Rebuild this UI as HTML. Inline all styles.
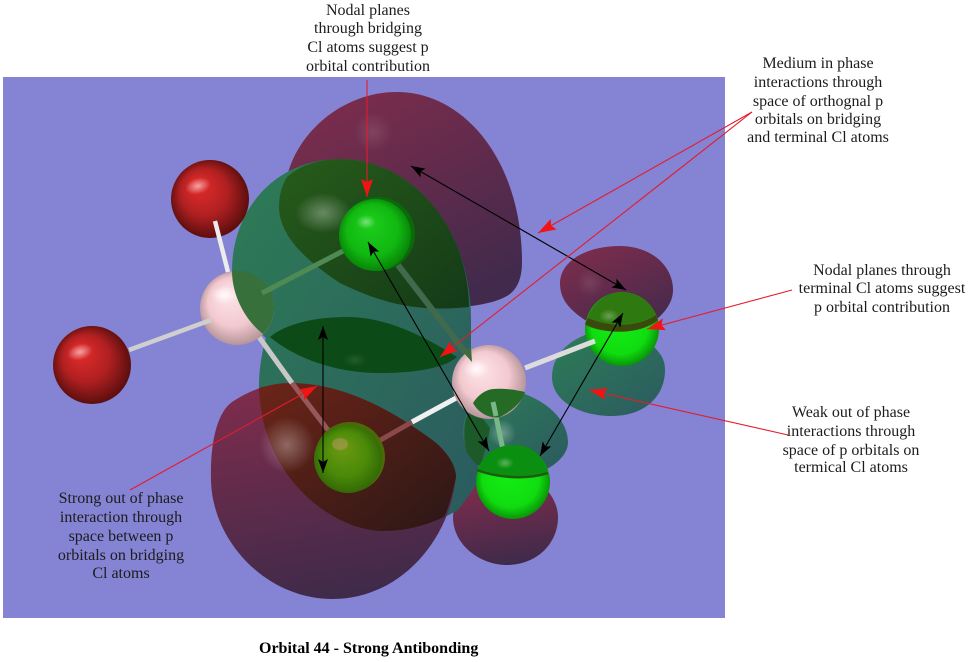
<!DOCTYPE html>
<html><head><meta charset="utf-8"><style>
html,body{margin:0;padding:0;background:#fff}
svg{display:block}
text{font-family:"Liberation Serif",serif;font-size:16px;fill:#1c1c1c}
</style></head><body>
<svg width="972" height="662" viewBox="0 0 972 662" xmlns="http://www.w3.org/2000/svg">
<defs>
<linearGradient id="mar" x1="0.15" y1="0" x2="0.7" y2="1"><stop offset="0" stop-color="#7e2c4c"/><stop offset="1" stop-color="#412a4c"/></linearGradient>
<linearGradient id="mar2" x1="0.3" y1="0" x2="0.5" y2="1"><stop offset="0" stop-color="#7e2c4c"/><stop offset="1" stop-color="#3f2a4a"/></linearGradient>
<linearGradient id="gr" x1="0" y1="0" x2="1" y2="1"><stop offset="0" stop-color="#2d7c56"/><stop offset="1" stop-color="#2b5a60"/></linearGradient>
<linearGradient id="dk" x1="0" y1="0" x2="1" y2="1"><stop offset="0" stop-color="#275c1a"/><stop offset="1" stop-color="#143a18"/></linearGradient>
<linearGradient id="dr" x1="0" y1="0" x2="1" y2="1"><stop offset="0" stop-color="#6d2418"/><stop offset="1" stop-color="#2a1716"/></linearGradient>
<radialGradient id="red" cx="0.5" cy="0.5" r="0.55" fx="0.32" fy="0.3"><stop offset="0" stop-color="#e92c2c"/><stop offset="0.55" stop-color="#b02021"/><stop offset="1" stop-color="#4e0b0b"/></radialGradient>
<radialGradient id="pink" cx="0.5" cy="0.5" r="0.55" fx="0.35" fy="0.3"><stop offset="0" stop-color="#ffe6ea"/><stop offset="0.6" stop-color="#f2c9cf"/><stop offset="1" stop-color="#a98a8f"/></radialGradient>
<radialGradient id="cl" cx="0.5" cy="0.5" r="0.55" fx="0.4" fy="0.3"><stop offset="0" stop-color="#1ed01e"/><stop offset="0.65" stop-color="#11b811"/><stop offset="1" stop-color="#067a06"/></radialGradient>
<radialGradient id="cl2" cx="0.5" cy="0.5" r="0.55" fx="0.4" fy="0.35"><stop offset="0" stop-color="#14f014"/><stop offset="0.7" stop-color="#10dc10"/><stop offset="1" stop-color="#068006"/></radialGradient>
<radialGradient id="ol" cx="0.5" cy="0.5" r="0.55" fx="0.4" fy="0.3"><stop offset="0" stop-color="#6f9a12"/><stop offset="0.6" stop-color="#4a8a08"/><stop offset="1" stop-color="#2f6206"/></radialGradient>
<radialGradient id="glow"><stop offset="0" stop-color="#fff" stop-opacity=".32"/><stop offset="1" stop-color="#fff" stop-opacity="0"/></radialGradient>
<radialGradient id="hi"><stop offset="0" stop-color="#fff" stop-opacity=".8"/><stop offset="1" stop-color="#fff" stop-opacity="0"/></radialGradient>
<marker id="rh" markerWidth="19" markerHeight="13" refX="18" refY="6.5" orient="auto-start-reverse" markerUnits="userSpaceOnUse"><path d="M0 0.5L18 6.5L0 12.5L3 6.5Z" fill="#f01414"/></marker>
<marker id="bh" markerWidth="15" markerHeight="11" refX="14" refY="5.5" orient="auto-start-reverse" markerUnits="userSpaceOnUse"><path d="M0 0.5L14 5.5L0 10.5L3 5.5Z" fill="#000"/></marker>
</defs>
<rect width="972" height="662" fill="#fff"/>
<rect x="3" y="77" width="722" height="541" fill="#8583d3"/>

<!-- small lobes -->
<path d="M585 320C570 310 560 300 560 283C560 262 585 246 620 246C650 246 673 265 673 290C673 302 665 312 658 318L620 340Z" fill="url(#mar)"/>
<path d="M552 377C552 358 565 343 585 335L640 335L655 348C661 354 665 360 665 370C665 396 645 416 612 416C578 416 552 400 552 377Z" fill="url(#gr)"/>
<path d="M478 483C463 492 453 505 453 517C453 545 480 565 507 565C535 565 558 545 558 517C558 507 553 497 547 490Z" fill="url(#mar2)"/>

<!-- top maroon lobe -->
<path d="M287 177C298 130 345 92 397 92C465 92 522 162 522 262C522 282 515 293 503 298C490 304 470 307 447 308L350 260L290 195Z" fill="url(#mar)"/>

<!-- main green lobe -->
<path d="M232 271C232 210 275 159 340 159C410 159 471 225 471 320L471 400C472 430 477 455 480 480L458 510C440 520 420 530 400 530C340 530 290 480 262 420C257 395 258 365 266 338C245 320 232 295 232 271Z" fill="url(#gr)"/>

<!-- overlap upper dark -->
<path d="M287 177C300 165 320 159 340 159C410 159 468 225 469 307C420 312 385 305 340 283C305 260 279 235 279 207C279 195 282 185 287 177Z" fill="url(#dk)"/>
<!-- dark ellipse -->
<path d="M270 337C285 324 315 317 347 317C390 317 430 340 457 357C445 368 415 373 380 373C335 373 295 358 270 337Z" fill="#0c4a17"/>

<!-- lower maroon -->
<path d="M211 480C210 440 218 412 232 402C250 390 270 383 290 383C345 383 395 412 435 442C448 453 456 466 456 477C450 540 400 599 333 599C265 599 212 540 211 480Z" fill="url(#mar2)"/>
<path d="M259 388C270 385 280 383 290 383C345 383 395 412 435 442C448 453 456 466 456 477C453 490 450 505 444 517C425 526 405 531 383 531C335 531 262 480 259 388Z" fill="url(#dr)"/>

<!-- small green lobe -->
<path d="M463 433C463 405 485 388 505 390C535 392 568 415 568 442C568 455 555 465 545 470L480 467C470 458 463 445 463 433Z" fill="url(#gr)"/>
<path d="M470 410C463 420 463 440 467 453C472 460 476 464 480 467C484 455 487 445 490 428L478 412Z" fill="#1c5a2a"/>

<!-- glows -->
<ellipse cx="323" cy="213" rx="28" ry="20" fill="url(#glow)"/>
<ellipse cx="373" cy="132" rx="20" ry="20" fill="url(#glow)" opacity=".35"/>
<ellipse cx="287" cy="445" rx="28" ry="28" fill="url(#glow)"/>
<ellipse cx="502" cy="433" rx="14" ry="14" fill="url(#glow)"/>
<ellipse cx="355" cy="360" rx="12" ry="7" fill="url(#glow)" opacity=".3"/>
<ellipse cx="590" cy="283" rx="14" ry="14" fill="url(#glow)" opacity=".3"/>

<!-- bonds behind atoms -->
<line x1="259" y1="337" x2="292" y2="383" stroke="#c8c8c8" stroke-width="5"/>
<line x1="292" y1="383" x2="328" y2="430" stroke="#95595c" stroke-width="5"/>
<line x1="377" y1="442" x2="412" y2="422" stroke="#8a4a4a" stroke-width="5"/>
<line x1="412" y1="422" x2="458" y2="397" stroke="#f0f0f0" stroke-width="5"/>
<line x1="262" y1="293" x2="345" y2="250" stroke="#4f8a55" stroke-width="5"/>
<line x1="398" y1="265" x2="468" y2="356" stroke="#406a4d" stroke-width="6"/>
<line x1="493" y1="402" x2="503" y2="450" stroke="#78b888" stroke-width="5"/>

<!-- atoms -->
<circle cx="210" cy="199" r="39" fill="url(#red)"/>
<ellipse cx="198" cy="186" rx="13" ry="8" transform="rotate(-15 198 186)" fill="url(#hi)" opacity=".7"/>
<circle cx="92" cy="365" r="39" fill="url(#red)"/>
<ellipse cx="80" cy="352" rx="13" ry="8" transform="rotate(-15 80 352)" fill="url(#hi)" opacity=".7"/>
<line x1="215" y1="221" x2="228" y2="272" stroke="#ececec" stroke-width="4.5"/>
<circle cx="237" cy="308" r="37" fill="url(#pink)"/>
<ellipse cx="224" cy="295" rx="13" ry="9" fill="url(#hi)"/>
<line x1="129" y1="350" x2="211" y2="320" stroke="#cfcfcf" stroke-width="4.5"/>
<path d="M232 271A37 37 0 0 1 263 334C245 320 232 295 232 271Z" fill="#37703a"/>
<line x1="262" y1="293" x2="274" y2="287" stroke="#4f8a55" stroke-width="5"/>

<circle cx="489" cy="382" r="37" fill="url(#pink)"/>
<ellipse cx="476" cy="369" rx="13" ry="9" fill="url(#hi)"/>
<path d="M463 352L471 347L472 362Z" fill="#3f6a3c"/>
<path d="M473 403C478 395 485 390 493 389C505 388 516 390 525 392C523 401 512 411 500 417C491 419 479 414 473 403Z" fill="#256a25"/>
<line x1="493" y1="402" x2="496" y2="416" stroke="#78b888" stroke-width="5"/>

<circle cx="378" cy="234" r="37" fill="#0a6a0a"/>
<circle cx="375" cy="235" r="36" fill="url(#cl)"/>
<ellipse cx="366" cy="222" rx="10" ry="7" fill="url(#hi)" opacity=".5"/>
<circle cx="350" cy="457" r="35" fill="#4a6a08"/>
<circle cx="348" cy="459" r="34" fill="url(#ol)"/>
<ellipse cx="340" cy="444" rx="8" ry="6" fill="#c09a70" opacity=".45"/>

<circle cx="513" cy="482" r="37" fill="url(#cl2)"/>
<path d="M477 470C484 453 498 445 513 445C530 445 542 453 548 473C535 479 505 481 477 470Z" fill="#0b8f10"/>
<path d="M477 470C500 479 530 479 548 473" fill="none" stroke="#1f5a10" stroke-width="2.5"/>
<ellipse cx="505" cy="463" rx="9" ry="6" fill="url(#hi)" opacity=".4"/>

<circle cx="622" cy="329" r="37" fill="url(#cl2)"/>
<path d="M585 325C590 305 605 292 622 292C640 292 654 305 658 320C640 333 605 335 585 325Z" fill="#2f7a10"/>
<path d="M585 324C605 335 640 335 658 320L656 315C640 327 610 328 588 318Z" fill="#3a4a0c"/>
<ellipse cx="609" cy="316" rx="10" ry="7" fill="url(#hi)" opacity=".35"/>
<line x1="525" y1="368" x2="595" y2="341" stroke="#dcdcdc" stroke-width="5"/>

<!-- black arrows -->
<g stroke="#000" stroke-width="1.1" fill="none">
<line x1="411" y1="166" x2="626" y2="290" marker-start="url(#bh)" marker-end="url(#bh)"/>
<line x1="323" y1="326" x2="323" y2="473" marker-start="url(#bh)" marker-end="url(#bh)"/>
<line x1="368" y1="242" x2="489" y2="451" marker-start="url(#bh)" marker-end="url(#bh)"/>
<line x1="623" y1="313" x2="540" y2="456" marker-start="url(#bh)" marker-end="url(#bh)"/>
</g>
<!-- red arrows -->
<g stroke="#e41c2c" stroke-width="1.1" fill="none">
<line x1="367" y1="80" x2="367" y2="197" marker-end="url(#rh)"/>
<line x1="752" y1="112" x2="538" y2="233" marker-end="url(#rh)"/>
<line x1="752" y1="112" x2="440" y2="357" marker-end="url(#rh)"/>
<line x1="792" y1="290" x2="647" y2="329" marker-end="url(#rh)"/>
<line x1="788" y1="435" x2="589" y2="390" marker-end="url(#rh)"/>
<line x1="130" y1="490" x2="317" y2="386" marker-end="url(#rh)"/>
</g>

<!-- labels -->
<g text-anchor="middle">
<text x="368" y="15">Nodal planes</text>
<text x="368" y="33">through bridging</text>
<text x="368" y="52">Cl atoms suggest p</text>
<text x="368" y="71">orbital contribution</text>
<text x="818" y="68">Medium in phase</text>
<text x="818" y="87">interactions through</text>
<text x="818" y="106">space of orthognal p</text>
<text x="818" y="124">orbitals on bridging</text>
<text x="818" y="142">and terminal Cl atoms</text>
<text x="882" y="275">Nodal planes through</text>
<text x="882" y="293">terminal Cl atoms suggest</text>
<text x="882" y="312">p orbital contribution</text>
<text x="851" y="417">Weak out of phase</text>
<text x="851" y="436">interactions through</text>
<text x="851" y="455">space of p orbitals on</text>
<text x="851" y="472">termical Cl atoms</text>
<text x="121" y="503">Strong out of phase</text>
<text x="121" y="522">interaction through</text>
<text x="121" y="541">space between p</text>
<text x="121" y="560">orbitals on bridging</text>
<text x="121" y="578">Cl atoms</text>
</g>
<text x="259" y="653" style="font-weight:bold;font-size:16px;fill:#000">Orbital 44 - Strong Antibonding</text>
</svg>
</body></html>
